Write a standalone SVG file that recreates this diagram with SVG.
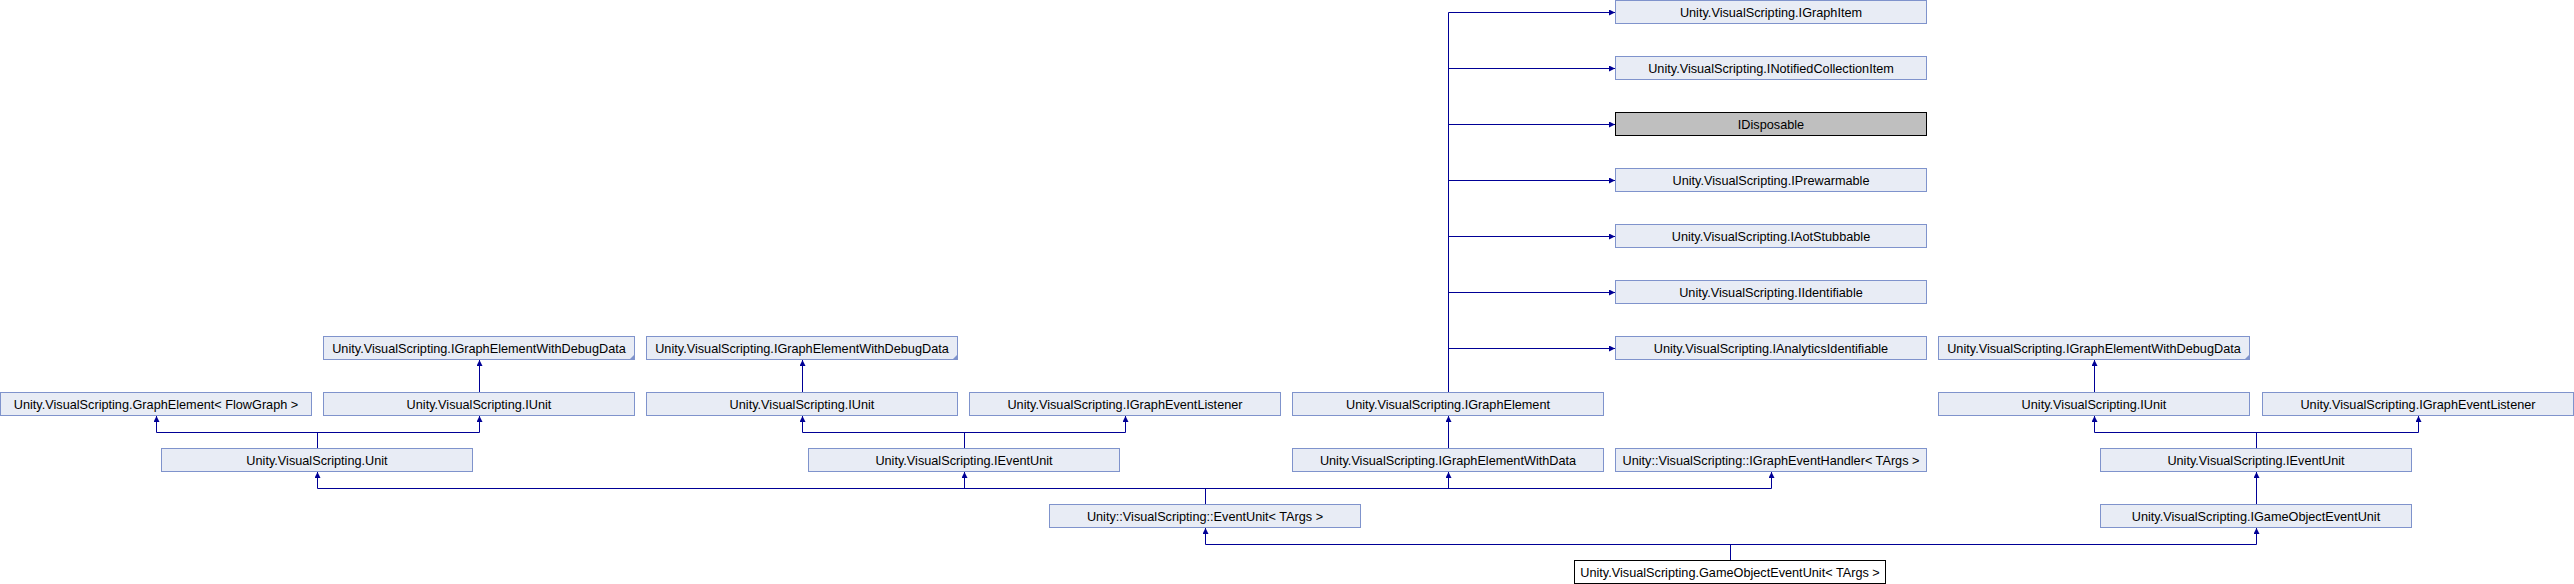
<svg xmlns="http://www.w3.org/2000/svg" width="2574" height="584" viewBox="0 0 2574 584">
<style>
.n rect{fill:#E8ECF5;stroke:#7F93CC;stroke-width:1}
.n text{font-family:"Liberation Sans",Arial,sans-serif;font-size:12.7px;fill:#000;text-anchor:middle}
.ext rect{fill:#BFBFBF;stroke:#000}
.main rect{fill:#FFFFFF;stroke:#000}
.fold{fill:#7F93CC}
#edges path{fill:none;stroke:#000096;stroke-width:1}
#edges path.a{marker-end:url(#arr)}
</style>
<defs>
<marker id="arr" markerUnits="userSpaceOnUse" markerWidth="7" markerHeight="7" refX="6" refY="3" orient="auto">
<path d="M0,0 L6,3 L0,6 z" fill="#000096"/>
</marker>
</defs>
<rect width="2574" height="584" fill="#fff"/>
<g id="edges">
<path class="a" d="M1448.5 392 V12.5 H1615"/>
<path class="a" d="M1448.5 68.5 H1615"/>
<path class="a" d="M1448.5 124.5 H1615"/>
<path class="a" d="M1448.5 180.5 H1615"/>
<path class="a" d="M1448.5 236.5 H1615"/>
<path class="a" d="M1448.5 292.5 H1615"/>
<path class="a" d="M1448.5 348.5 H1615"/>
<path class="a" d="M479.5 392 V360"/>
<path class="a" d="M802.5 392 V360"/>
<path class="a" d="M2094.5 392 V360"/>
<path class="a" d="M1448.5 448 V416"/>
<path class="a" d="M2256.5 504 V472"/>
<path d="M317.5 448 V432.5 M156.5 432.5 H479.5"/>
<path class="a" d="M156.5 432.5 V416"/>
<path class="a" d="M479.5 432.5 V416"/>
<path d="M964.5 448 V432.5 M802.5 432.5 H1125.5"/>
<path class="a" d="M802.5 432.5 V416"/>
<path class="a" d="M1125.5 432.5 V416"/>
<path d="M2256.5 448 V432.5 M2094.5 432.5 H2418.5"/>
<path class="a" d="M2094.5 432.5 V416"/>
<path class="a" d="M2418.5 432.5 V416"/>
<path d="M1205.5 504 V488.5 M317.5 488.5 H1771.5"/>
<path class="a" d="M317.5 488.5 V472"/>
<path class="a" d="M964.5 488.5 V472"/>
<path class="a" d="M1448.5 488.5 V472"/>
<path class="a" d="M1771.5 488.5 V472"/>
<path d="M1730.5 560 V544.5 M1205.5 544.5 H2256.5"/>
<path class="a" d="M1205.5 544.5 V528"/>
<path class="a" d="M2256.5 544.5 V528"/>
</g>
<g id="n_igraphitem" class="n"><rect x="1615.5" y="0.5" width="311" height="23"/><text x="1771" y="16.5">Unity.VisualScripting.IGraphItem</text></g>
<g id="n_inotified" class="n"><rect x="1615.5" y="56.5" width="311" height="23"/><text x="1771" y="72.5">Unity.VisualScripting.INotifiedCollectionItem</text></g>
<g id="n_idisposable" class="n ext"><rect x="1615.5" y="112.5" width="311" height="23"/><text x="1771" y="128.5">IDisposable</text></g>
<g id="n_iprewarmable" class="n"><rect x="1615.5" y="168.5" width="311" height="23"/><text x="1771" y="184.5">Unity.VisualScripting.IPrewarmable</text></g>
<g id="n_iaotstubbable" class="n"><rect x="1615.5" y="224.5" width="311" height="23"/><text x="1771" y="240.5">Unity.VisualScripting.IAotStubbable</text></g>
<g id="n_iidentifiable" class="n"><rect x="1615.5" y="280.5" width="311" height="23"/><text x="1771" y="296.5">Unity.VisualScripting.IIdentifiable</text></g>
<g id="n_ianalytics" class="n"><rect x="1615.5" y="336.5" width="311" height="23"/><text x="1771" y="352.5">Unity.VisualScripting.IAnalyticsIdentifiable</text></g>
<g id="n_debug1" class="n"><rect x="323.5" y="336.5" width="311" height="23"/><polygon class="fold" points="629,360 635,354 635,360"/><text x="479" y="352.5">Unity.VisualScripting.IGraphElementWithDebugData</text></g>
<g id="n_debug2" class="n"><rect x="646.5" y="336.5" width="311" height="23"/><polygon class="fold" points="952,360 958,354 958,360"/><text x="802" y="352.5">Unity.VisualScripting.IGraphElementWithDebugData</text></g>
<g id="n_debug3" class="n"><rect x="1938.5" y="336.5" width="311" height="23"/><polygon class="fold" points="2244,360 2250,354 2250,360"/><text x="2094" y="352.5">Unity.VisualScripting.IGraphElementWithDebugData</text></g>
<g id="n_graphelement" class="n"><rect x="0.5" y="392.5" width="311" height="23"/><text x="156" y="408.5">Unity.VisualScripting.GraphElement&lt; FlowGraph &gt;</text></g>
<g id="n_iunit1" class="n"><rect x="323.5" y="392.5" width="311" height="23"/><text x="479" y="408.5">Unity.VisualScripting.IUnit</text></g>
<g id="n_iunit2" class="n"><rect x="646.5" y="392.5" width="311" height="23"/><text x="802" y="408.5">Unity.VisualScripting.IUnit</text></g>
<g id="n_listener1" class="n"><rect x="969.5" y="392.5" width="311" height="23"/><text x="1125" y="408.5">Unity.VisualScripting.IGraphEventListener</text></g>
<g id="n_igraphelement" class="n"><rect x="1292.5" y="392.5" width="311" height="23"/><text x="1448" y="408.5">Unity.VisualScripting.IGraphElement</text></g>
<g id="n_iunit3" class="n"><rect x="1938.5" y="392.5" width="311" height="23"/><text x="2094" y="408.5">Unity.VisualScripting.IUnit</text></g>
<g id="n_listener2" class="n"><rect x="2262.5" y="392.5" width="311" height="23"/><text x="2418" y="408.5">Unity.VisualScripting.IGraphEventListener</text></g>
<g id="n_unit" class="n"><rect x="161.5" y="448.5" width="311" height="23"/><text x="317" y="464.5">Unity.VisualScripting.Unit</text></g>
<g id="n_ieventunit1" class="n"><rect x="808.5" y="448.5" width="311" height="23"/><text x="964" y="464.5">Unity.VisualScripting.IEventUnit</text></g>
<g id="n_withdata" class="n"><rect x="1292.5" y="448.5" width="311" height="23"/><text x="1448" y="464.5">Unity.VisualScripting.IGraphElementWithData</text></g>
<g id="n_handler" class="n"><rect x="1615.5" y="448.5" width="311" height="23"/><text x="1771" y="464.5">Unity::VisualScripting::IGraphEventHandler&lt; TArgs &gt;</text></g>
<g id="n_ieventunit2" class="n"><rect x="2100.5" y="448.5" width="311" height="23"/><text x="2256" y="464.5">Unity.VisualScripting.IEventUnit</text></g>
<g id="n_eventunit" class="n"><rect x="1049.5" y="504.5" width="311" height="23"/><text x="1205" y="520.5">Unity::VisualScripting::EventUnit&lt; TArgs &gt;</text></g>
<g id="n_igoeventunit" class="n"><rect x="2100.5" y="504.5" width="311" height="23"/><text x="2256" y="520.5">Unity.VisualScripting.IGameObjectEventUnit</text></g>
<g id="n_goeventunit" class="n main"><rect x="1574.5" y="560.5" width="311" height="23"/><text x="1730" y="576.5">Unity.VisualScripting.GameObjectEventUnit&lt; TArgs &gt;</text></g>
</svg>
